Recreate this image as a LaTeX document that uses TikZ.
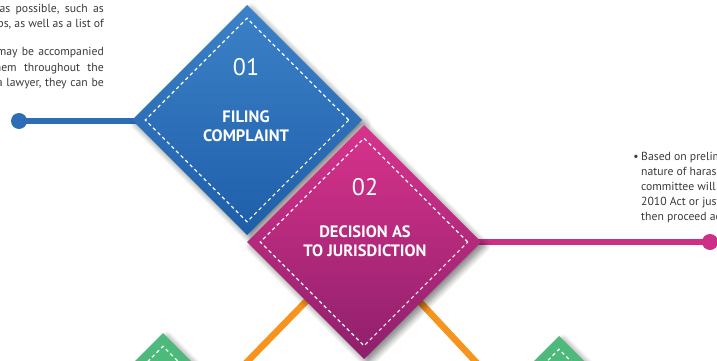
\documentclass[tikz,border=0pt]{standalone}
\usepackage{fontspec}
\setmainfont{PT Sans}
\usetikzlibrary{shapes.geometric,shadows.blur,backgrounds}
\definecolor{bluetop}{HTML}{3C82C8}
\definecolor{bluebot}{HTML}{1E5EA9}
\definecolor{blueln}{HTML}{2E6DB5}
\definecolor{pinktop}{HTML}{D9338C}
\definecolor{pinkbot}{HTML}{8E1F6C}
\definecolor{pinkln}{HTML}{CC2F86}
\definecolor{greenc}{HTML}{4DBA7B}
\definecolor{orangec}{HTML}{F7941D}
\definecolor{txtgray}{HTML}{3A3A3A}
\tikzset{
  diam/.style={shape=diamond, inner sep=0pt, outer sep=0pt, aspect=1,
    minimum width=#1, minimum height=#1, draw=none},
  diamshadow/.style={blur shadow={shadow xshift=4pt, shadow yshift=-4pt,
    shadow blur radius=6pt, shadow blur steps=10, shadow opacity=50}},
  stitch/.style={shape=diamond, inner sep=0pt, aspect=1,
    minimum width=#1, minimum height=#1, draw=white, line width=1.1pt,
    dash pattern=on 3.5pt off 3pt},
  numtxt/.style={text=white, font=\fontsize{24}{26}\selectfont, inner sep=0pt},
  headtxt/.style={text=white, font=\fontsize{16.5}{19}\selectfont\bfseries,
    inner sep=0pt, align=center},
  bodyl/.style={text=txtgray, font=\fontsize{11.7}{13}\selectfont,
    execute at begin node={\spaceskip=#1\relax},
    inner sep=0pt, anchor=base east},
  bodyr/.style={text=txtgray, font=\fontsize{11.7}{13}\selectfont, inner sep=0pt, anchor=base west},
  dotnode/.style={circle, inner sep=0pt, minimum size=16pt, fill=#1},
  conn/.style={line width=6.5pt, draw=#1}
}
\begin{document}
\begin{tikzpicture}[x=1pt,y=-1pt]
\useasboundingbox (0,0) rectangle (717,361);

% green diamonds (bottom)
\node[diam=230pt, fill=greenc, diamshadow] (g1) at (163,448) {};
\node[stitch=204pt] (g1i) at (g1.center) {};
\node[diam=230pt, fill=greenc, diamshadow] (g2) at (559,451) {};
\node[stitch=204pt] (g2i) at (g2.center) {};

% blue diamond
\node[diam=230pt, top color=bluetop, bottom color=bluebot, diamshadow] (d1) at (247,120) {};
\node[stitch=204pt] (d1i) at (d1.center) {};
\node[numtxt] (n1) at (246,67) {01};
\node[headtxt] (h1) at (246,126) {FILING\\COMPLAINT};

% pink diamond
\node[diam=234pt, top color=pinktop, bottom color=pinkbot, diamshadow] (d2) at (364,242) {};
\node[stitch=208pt] (d2i) at (d2.center) {};
\node[numtxt] (n2) at (365,187) {02};
\node[headtxt] (h2) at (365,241) {DECISION AS\\TO JURISDICTION};

% dots
\node[dotnode=blueln] (b0) at (19,121) {};
\node[dotnode=pinkln] (p0) at (710,242) {};

\begin{pgfonlayer}{background}
  \draw[conn=orangec] (d2.center) -- (g1.center);
  \draw[conn=orangec] (d2.center) -- (g2.center);
  \draw[conn=blueln] (b0.center) -- (b0 -| d1.center);
  \draw[conn=pinkln] (p0.center) -- (p0 -| d2.center);
\end{pgfonlayer}

% left text
\node[bodyl=5.3pt] (l1) at (104,13) {the incident in as much detail as possible, such as};
\node[bodyl=3.1pt] (l2) at (104,28) {names of any witnesses or groups, as well as a list of};
\node[bodyl=4.2pt] (l3) at (104,56) {The complainant may be accompanied};
\node[bodyl=7.3pt] (l4) at (104,71) {by a person to support them throughout the};
\node[bodyl=3.7pt] (l5) at (104,86) {process. If they want a lawyer, they can be};

% right text
\node[text=txtgray, font=\fontsize{11.7}{13}\selectfont, inner sep=0pt, anchor=base] (bul) at (636,160) {•};
\node[bodyr] (r1) at (641,160) {Based on preliminary assessment of the};
\node[bodyr] (r2) at (641,175) {nature of harassment complaint, the};
\node[bodyr] (r3) at (641,190) {committee will decide whether it falls};
\node[bodyr] (r4) at (641,205) {2010 Act or just the code of conduct and};
\node[bodyr] (r5) at (641,220) {then proceed accordingly.};
\end{tikzpicture}
\end{document}
